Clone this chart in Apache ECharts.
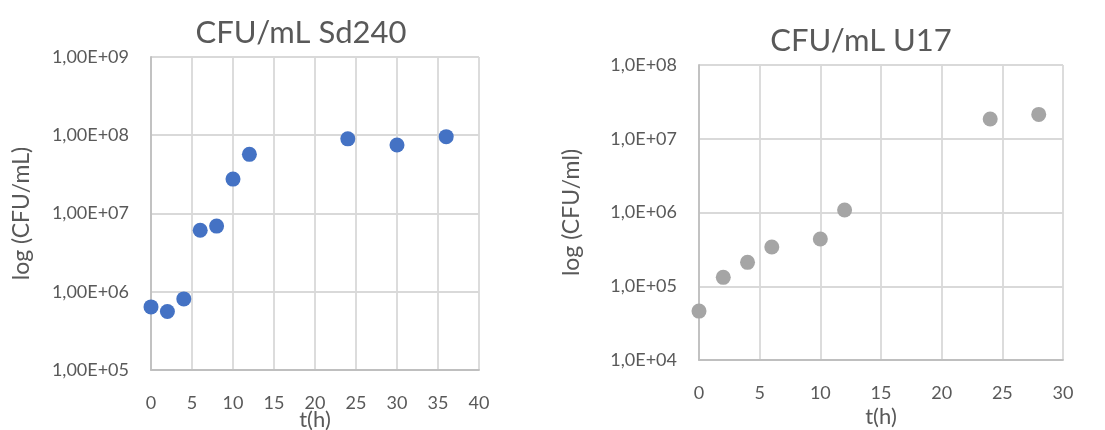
<!DOCTYPE html>
<html><head><meta charset="utf-8">
<script src="https://cdn.jsdelivr.net/npm/echarts@6/dist/echarts.min.js"></script>
<style>html,body{margin:0;padding:0;background:#fff}#c{width:1105px;height:430px}</style>
</head><body><div id="c"></div>
<script>
var timesSd240 = [0, 2, 4, 6, 8, 10, 12, 24, 30, 36];
var cfuSd240 = [6.4e5, 5.6e5, 8.1e5, 6.1e6, 6.9e6, 2.75e7, 5.7e7, 9.0e7, 7.5e7, 9.6e7];
var timesU17 = [0, 2, 4, 6, 10, 12, 24, 28];
var cfuU17 = [4.6e4, 1.32e5, 2.11e5, 3.4e5, 4.37e5, 1.08e6, 1.85e7, 2.14e7];
var titles = ['CFU/mL Sd240', 'CFU/mL U17'];
var yNames = ['log (CFU/mL)', 'log (CFU/ml)'];
var xName = 't(h)';

function pair(t, v) { return t.map(function (x, i) { return [x, v[i]]; }); }
function fmt(dec) {
  return function (v) {
    var e = Math.round(Math.log10(v));
    return '1,' + (dec === 2 ? '00' : '0') + 'E+' + (e < 10 ? '0' : '') + e;
  };
}
var txt = '#595959', font = 'Lato';
var gridLine = { show: true, lineStyle: { color: '#d9d9d9', width: 1.8 } };
function xAx(idx, max, gap) {
  return {
    type: 'value', gridIndex: idx, min: 0, max: max, interval: 5,
    name: xName, nameLocation: 'middle', nameGap: gap, nameMoveOverlap: false,
    nameTextStyle: { color: txt, fontFamily: font, fontSize: 22 },
    axisLine: { show: true, onZero: false, lineStyle: { color: '#bfbfbf', width: 1.8 } },
    axisTick: { show: false },
    axisLabel: { color: txt, fontFamily: font, fontSize: 18, margin: 24 },
    splitLine: gridLine
  };
}
function yAx(idx, min, max, dec, gap) {
  return {
    type: 'log', logBase: 10, gridIndex: idx, min: min, max: max,
    name: yNames[idx], nameLocation: 'middle', nameGap: gap, nameRotate: 90, nameMoveOverlap: false,
    nameTextStyle: { color: txt, fontFamily: font, fontSize: 23 },
    axisLine: { show: true, lineStyle: { color: '#bfbfbf', width: 1.8 } },
    axisTick: { show: false },
    axisLabel: { color: txt, fontFamily: font, fontSize: 18, margin: 22, formatter: fmt(dec) },
    splitLine: gridLine
  };
}
var chart = echarts.init(document.getElementById('c'), null, { renderer: 'canvas' });
chart.setOption({
  backgroundColor: '#fff',
  animation: false,
  title: [
    { text: titles[0], left: 296, top: 12, textAlign: 'center',
      textStyle: { color: txt, fontFamily: font, fontSize: 31, fontWeight: 'normal' } },
    { text: titles[1], left: 856, top: 20, textAlign: 'center',
      textStyle: { color: txt, fontFamily: font, fontSize: 31, fontWeight: 'normal' } }
  ],
  grid: [
    { left: 151, right: 626, top: 57, bottom: 60, outerBoundsMode: 'none', containLabel: false },
    { left: 699, right: 42, top: 65, bottom: 70, outerBoundsMode: 'none', containLabel: false }
  ],
  xAxis: [xAx(0, 40, 39), xAx(1, 30, 46)],
  yAxis: [yAx(0, 1e5, 1e9, 2, 118), yAx(1, 1e4, 1e8, 1, 116)],
  series: [
    { type: 'scatter', xAxisIndex: 0, yAxisIndex: 0, data: pair(timesSd240, cfuSd240),
      symbolSize: 15, itemStyle: { color: '#4472C4', opacity: 1 } },
    { type: 'scatter', xAxisIndex: 1, yAxisIndex: 1, data: pair(timesU17, cfuU17),
      symbolSize: 15, itemStyle: { color: '#A5A5A5', opacity: 1 } }
  ]
});
</script></body></html>
